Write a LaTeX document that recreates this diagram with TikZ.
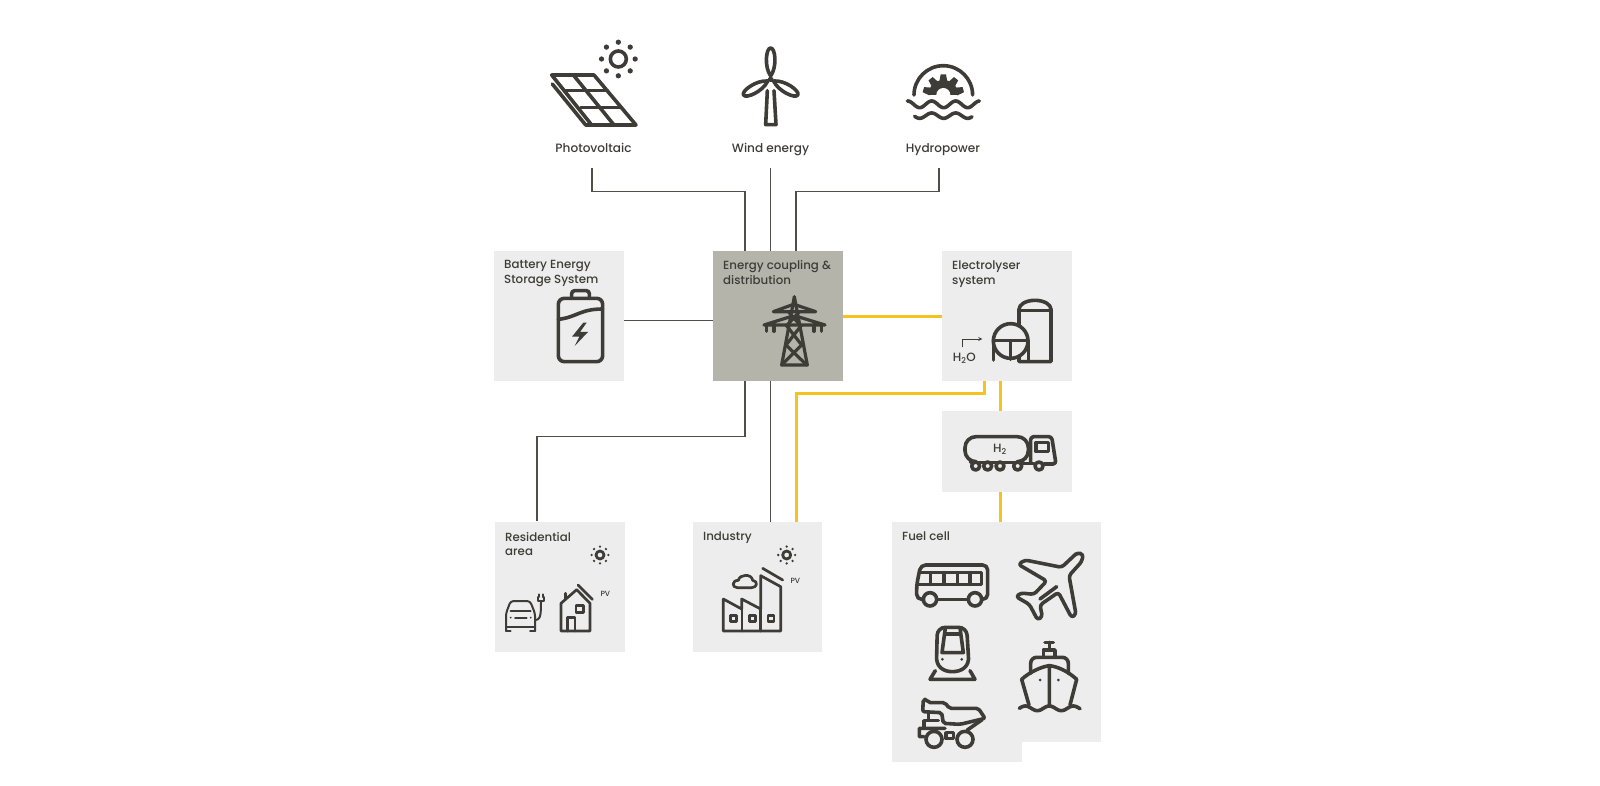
\documentclass[tikz,border=0pt]{standalone}
\usepackage{fontspec}
\usepackage{xcolor}
\setmainfont[UprightFont={* Medium}]{Poppins}
\usetikzlibrary{calc}
\definecolor{dark}{HTML}{3d3c36}
\definecolor{wirecol}{HTML}{4f4e49}
\definecolor{h2col}{HTML}{f5c21f}
\definecolor{panelcol}{HTML}{ededed}
\definecolor{hubcol}{HTML}{b5b4ab}
\newcommand{\sunicon}[4]{
	\draw[icon, line width=#4] (#1,#2) circle [radius=#3];
	\foreach \a in {0,45,...,315}
		\fill[dark] ($(#1,#2)+(\a:#3*2.1)$) circle [radius=#3*.33];
}
\newcommand{\wavepath}[5]{
	\draw[icon] plot[domain=#1:#2, samples=70] (\x,{#3-#4*cos((\x-#5)*5)});
}

\begin{document}
\begin{tikzpicture}[
		x=1pt, y=-1pt,
		panel/.style={fill=panelcol, inner sep=0pt, minimum width=130pt, minimum height=130pt},
		title/.style={text=dark, align=center, inner sep=0pt, text height=9.5pt, text depth=3pt, minimum height=36pt, font=\fontsize{12.1}{15}\selectfont},
		boxtext/.style={text=dark, align=left, anchor=north west, inner sep=0pt, font=\fontsize{11.8}{14.6}\selectfont},
		note/.style={text=dark, inner sep=0pt},
		wire/.style={draw=wirecol, line width=1.3pt},
		h2line/.style={draw=h2col, line width=3pt},
		icon/.style={draw=dark, line width=3.6pt, line join=round, line cap=round},
		thinicon/.style={icon, line width=2.7pt},
		crop/.style 2 args={shift={(#1,#2)}, x=.33333pt, y=-.33333pt},
	]
	\useasboundingbox (0,0) rectangle (1600,786);

	\node[panel] (battery) at (559,316) {};
	\node[panel, fill=hubcol] (coupling) at (778,316) {};
	\node[panel] (electrolyser) at (1007,316) {};
	\node[panel, minimum height=81pt] (tanker) at (1007,451.5) {};
	\node[panel] (residential) at (559.5,586.5) {};
	\node[panel, minimum width=129pt] (industry) at (757.5,587) {};
	\node[panel, minimum width=209pt, minimum height=220pt] (fuelcell) at (996.5,632) {};
	\node[panel, minimum height=32pt] (fuelfoot) at (957,746) {};

	\node[title] (pvtitle) at (593.5,149.5) {Photovoltaic};
	\node[title] (windtitle) at (770.5,149.5) {Wind energy};
	\node[title] (hydrotitle) at (943,149.5) {Hydropower};
	\node[boxtext] (batterytext) at (504,260.5) {Battery Energy\\Storage System};
	\node[boxtext] (couplingtext) at (723,260.5) {Energy coupling \&\\distribution};
	\node[boxtext] (electrolysertext) at (952,260.5) {Electrolyser\\system};
	\node[boxtext] (residentialtext) at (505,532) {Residential\\area};
	\node[boxtext] (industrytext) at (703,532) {Industry};
	\node[boxtext] (fuelcelltext) at (902,532) {Fuel cell};

	\draw[wire] ([xshift=-1.5]pvtitle.south) -- ++(0,23.5) -| ([xshift=-33]coupling.north);
	\draw[wire] (windtitle.south) -- (windtitle.south |- coupling.north);
	\draw[wire] ([xshift=-4]hydrotitle.south) -- ++(0,23.5) -| ([xshift=18]coupling.north);
	\draw[wire] ([yshift=-4.7]battery.east) -- ([yshift=-4.7]coupling.west);
	\draw[wire] ([xshift=-33]coupling.south) -- ++(0,55) -| ([xshift=-22.5]residential.north);
	\draw[wire] ([xshift=13]industry.north |- coupling.south) -- ([xshift=13]industry.north);
	\draw[h2line] (coupling.east) -- (electrolyser.west);
	\draw[h2line] ([xshift=-23]electrolyser.south) -- ++(0,12) -| ([xshift=39]industry.north);
	\draw[h2line] ([xshift=-7]electrolyser.south) -- ([xshift=-7]tanker.north);
	\draw[h2line] ([xshift=-7]tanker.south) -- ([xshift=-7]tanker.south |- fuelcell.north);

	\begin{scope}[crop={520}{20}]
		\sunicon{295}{117}{24}{3.6pt}
		\draw[icon] (95,165) -- (222,165) -- (348,315) -- (215,315) -- cycle;
		\draw[icon] (97,192) -- (197,315) -- (215,315);
		\draw[icon] (135,212) -- (262,212);
		\draw[icon] (182,263) -- (305,263);
		\draw[icon] (160,165) -- (282,315);
		\foreach \a in {0,120,240}
			\draw[icon, rotate around={\a:(752,178)}] (752,168) .. controls (732,140) and (738,84) .. (752,84) .. controls (766,84) and (772,140) .. (752,168);
		\draw[thinicon] (752,178) circle [radius=5];
		\draw[icon] (742,212) -- (737,314) -- (768,314) -- (762,212);
		\draw[icon] (1182,225) arc [start angle=180, end angle=0, radius=29.3pt];
		\fill[dark] (1225,225) arc [start angle=180, end angle=0, radius=15pt] -- cycle;
		\foreach \a in {15,52,90,128,165}
			\fill[dark, rotate around={\a:(1270,225)}] (1310,213) -- (1332,217) -- (1332,233) -- (1310,237) -- cycle;
		\fill[white] (1270,225) circle [radius=21];
		\wavepath{1162}{1378}{253}{10}{1235}
		\wavepath{1184}{1356}{287}{8}{1235}
	\end{scope}

	\begin{scope}[crop={480}{240}]
		\draw[icon, rounded corners=6pt] (235,365) rectangle (368,175);
		\draw[icon, rounded corners=3pt] (275,175) -- (275,152) -- (328,152) -- (328,175);
		\draw[icon] (235,238) .. controls (290,232) and (300,207) .. (368,207);
		\fill[dark] (310,248) -- (276,290) -- (298,290) -- (284,318) -- (324,276) -- (300,276) -- (320,248) -- cycle;
	\end{scope}

	\begin{scope}[crop={750}{290}, thinicon/.append style={line width=3.2pt}]
		\draw[thinicon] (95,225) -- (172,225) -- (133,20) -- cycle;
		\draw[thinicon] (70,65) -- (197,65) -- (138,45) -- (125,45) -- cycle;
		\draw[thinicon] (42,105) -- (225,105) -- (150,82) -- (115,82) -- cycle;
		\draw[thinicon] (108,105) -- (155,165) -- (95,225);
		\draw[thinicon] (155,105) -- (108,165) -- (170,225);
		\draw[thinicon] (115,65) -- (150,105) (148,65) -- (112,105);
		\foreach \x in {50,72,192,215}
			\draw[thinicon] (\x,105) -- (\x,124);
	\end{scope}

	\begin{scope}[crop={820}{240}]
		\draw[icon] (597,365) -- (597,208) arc [start angle=180, end angle=0, x radius=16pt, y radius=9pt] -- (693,365) -- cycle;
		\draw[icon] (597,212) -- (693,212);
		\draw[icon, fill=panelcol] (572,303) circle [radius=52];
		\draw[icon] (520,302) -- (625,302);
		\draw[icon] (572,302) -- (572,358);
		\draw[icon] (520,302) -- (520,360);
		\draw[icon] (625,302) -- (625,360) (625,365) -- (660,365);
		\draw[draw=dark, line width=.8pt, -stealth] (428,322) -- (428,297) -- (487,297);
		\node[note, font=\fontsize{12}{14}\selectfont] (h2otext) at (433,356) {H\textsubscript{2}O};
	\end{scope}

	\begin{scope}[crop={950}{420}]
		\draw[icon, rounded corners=11pt] (62,125) -- (45,125) -- (45,50) -- (235,50) -- (235,125) -- (218,125);
		\draw[icon] (62,128) -- (218,128) (218,130) -- (252,130);
		\foreach \x in {77,113,150,203,267}
			\draw[icon, fill=panelcol] (\x,138) circle [radius=12];
		\draw[icon, rounded corners=3pt] (242,128) -- (242,50) -- (305,50) -- (318,132) -- (282,132);
		\draw[icon] (258,68) rectangle (295,95);
		\node[note, font=\fontsize{12}{14}\selectfont] (h2text) at (150,88) {H\textsubscript{2}};
	\end{scope}

	\begin{scope}[crop={480}{505}]
		\sunicon{360}{150}{12}{2.8pt}
		\sunicon{920}{150}{12}{2.8pt}
		\node[note, font=\fontsize{7.5}{8}\selectfont] (pvhouse) at (376,268) {PV};
		\node[note, font=\fontsize{7.5}{8}\selectfont] (pvfactory) at (946,227) {PV};
		\draw[thinicon, line width=2pt, rounded corners=3pt] (78,378) -- (78,325) -- (92,288) -- (150,288) -- (165,325) -- (165,378);
		\draw[thinicon, line width=2pt] (78,366) -- (165,366) (78,378) -- (92,378) (150,378) -- (165,378) (92,318) -- (152,318) (105,340) -- (140,340);
		\fill[dark] (92,338) circle [radius=3] (152,338) circle [radius=3];
		\draw[thinicon, line width=2pt] (165,345) .. controls (185,345) and (182,320) .. (183,292);
		\draw[thinicon, line width=2pt] (175,276) -- (175,288) -- (191,288) -- (191,276) (176,268) -- (176,276) (190,268) -- (190,276);
		\draw[thinicon] (243,378) -- (243,295) -- (290,254) -- (330,295) -- (330,378) -- cycle;
		\draw[thinicon] (256,283) -- (256,265);
		\draw[thinicon] (294,240) -- (337,283);
		\draw[thinicon] (288,302) rectangle (310,322);
		\draw[thinicon] (262,378) -- (262,337) -- (285,337) -- (285,378);
		\draw[thinicon] (730,378) -- (730,282) -- (785,312) -- (785,282) -- (842,312) -- (842,212) -- (902,245) -- (902,378) -- cycle;
		\draw[thinicon] (786,312) -- (786,378) (842,312) -- (842,378);
		\foreach \x in {752,808,864}
			\draw[thinicon] (\x,332) rectangle ++(18,18);
		\draw[thinicon] (848,190) -- (908,225);
		\draw[thinicon] (772,248) .. controls (755,248) and (755,226) .. (775,226) .. controls (780,206) and (815,206) .. (818,226) .. controls (835,228) and (832,248) .. (815,248) -- cycle;
	\end{scope}

	\begin{scope}[crop={870}{505}]
		\draw[icon, rounded corners=5pt] (160,283) -- (140,283) -- (140,240) -- (152,180) -- (353,180) -- (353,283) -- (335,283);
		\draw[icon] (205,283) -- (292,283);
		\draw[icon] (150,203) -- (335,203) -- (335,238) -- (143,238);
		\foreach \x in {182,222,262,300}
			\draw[icon] (\x,203) -- (\x,238);
		\draw[icon] (180,283) circle [radius=20] (315,283) circle [radius=20];
		\draw[icon, rounded corners=3pt] (612,152) -- (575,187) -- (465,165) -- (445,178) -- (530,228) -- (492,268) -- (452,264) -- (438,275) -- (478,298) -- (503,345) -- (517,335) -- (510,300) -- (565,262) -- (605,338) -- (618,328) -- (597,212) -- (635,170) -- (640,148) -- (622,143) -- cycle;
		\draw[icon] (510,282) -- (560,245);
		\draw[icon] (525,412) -- (550,412) (538,412) -- (538,435) (520,455) -- (520,435) -- (555,435) -- (555,455);
		\draw[icon, rounded corners=6pt] (482,505) -- (482,457) -- (595,457) -- (595,505);
		\draw[icon] (455,523) .. controls (480,500) and (515,485) .. (538,482) .. controls (565,485) and (595,500) .. (620,523);
		\draw[icon] (455,523) -- (477,600) (620,523) -- (600,600) (538,482) -- (538,600);
		\fill[dark] (510,525) circle [radius=4.5] (565,525) circle [radius=4.5];
		\wavepath{448}{630}{610}{7}{538}
	\end{scope}

	\begin{scope}[crop={920}{620}]
		\draw[icon, rounded corners=8pt] (50,105) -- (52,22) -- (140,22) -- (145,105);
		\draw[icon] (50,105) .. controls (46,140) and (70,155) .. (97,155) .. controls (125,155) and (150,140) .. (145,105);
		\draw[icon] (76,24) -- (66,98) -- (130,98) -- (120,24) (74,42) -- (122,42);
		\fill[dark] (67,118) circle [radius=4.5] (125,118) circle [radius=4.5];
		\draw[icon] (30,178) -- (165,178) (46,152) -- (30,178) (150,152) -- (165,178);
	\end{scope}

	\begin{scope}[crop={910}{690}]
		\draw[icon, rounded corners=2pt] (40,28) -- (38,65) -- (95,68) -- (100,100) -- (150,103) -- (225,85) -- (205,55) -- (118,55) -- (105,38) -- (55,38) -- (50,28) -- cycle;
		\draw[icon] (55,68) -- (55,92) -- (85,92) (55,92) -- (42,92) -- (42,114);
		\draw[icon] (42,115) -- (28,115) -- (28,140) -- (42,140) (42,115) -- (105,115) (215,90) -- (172,120);
		\draw[icon] (72,148) circle [radius=24] (165,148) circle [radius=24];
		\draw[icon] (108,128) rectangle (130,145);
	\end{scope}
\end{tikzpicture}
\end{document}
